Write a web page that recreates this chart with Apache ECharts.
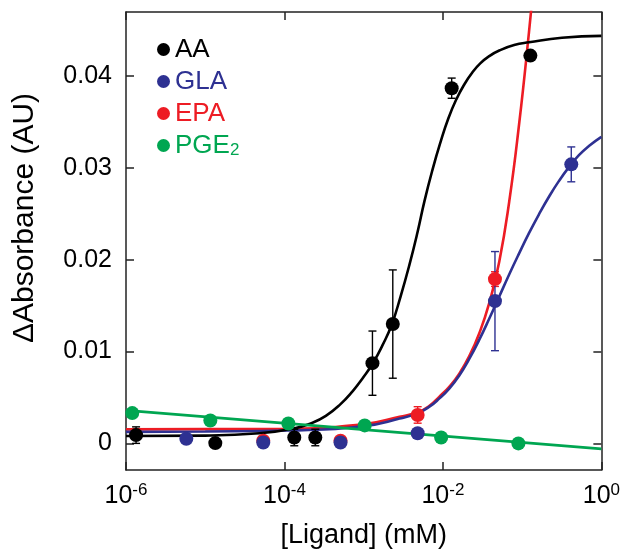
<!DOCTYPE html>
<html>
<head>
<meta charset="utf-8">
<script src="https://cdn.jsdelivr.net/npm/echarts@6/dist/echarts.min.js"></script>
<style>html,body{margin:0;padding:0;background:#fff}#c{width:623px;height:554px}</style>
</head>
<body>
<div id="c"></div>
<script>
// ---- tick labels ----
const xTicks = [1e-6, 1e-4, 1e-2, 1];
const yTicks = [0, 0.01, 0.02, 0.03, 0.04];

// ---- measured points (mean, error) ----
const aaX = [1.34e-6, 1.34e-5, 1.33e-4, 2.45e-4, 1.29e-3, 2.33e-3, 1.29e-2, 0.127];
const aaY = [0.0009, 0.00003, 0.00064, 0.00064, 0.00874, 0.0130, 0.0387, 0.04225];
const aaErr = [0.0009, 0, 0.0009, 0.0009, 0.0035, 0.0059, 0.0011, 0];

const glaX = [5.77e-6, 5.4e-5, 5.1e-4, 4.8e-3, 0.0454, 0.417];
const glaY = [0.0005, 0.0001, 0.0001, 0.0011, 0.0155, 0.0304];
const glaErr = [0, 0, 0, 0, 0.0054, 0.0019];

const epaX = [5.4e-5, 5.1e-4, 4.8e-3, 0.0454];
const epaY = [0.0003, 0.0003, 0.0031, 0.0179];
const epaErr = [0, 0, 0.0009, 0.0008];

const pgeX = [1.2e-6, 1.16e-5, 1.12e-4, 1.03e-3, 9.5e-3, 0.0897];
const pgeY = [0.0033, 0.0025, 0.00217, 0.00196, 0.00064, 0.0];

// ---- fitted curves ----
const aaFitX = [1e-6, 1e-5, 4.82e-5, 1.27e-4, 2.26e-4, 3.33e-4, 4.99e-4, 7.28e-4, 9.71e-4, 1.30e-3, 1.73e-3, 2.25e-3, 2.92e-3, 3.79e-3, 4.78e-3, 5.85e-3, 7.38e-3, 9.31e-3, 1.17e-2, 1.48e-2, 1.86e-2, 2.35e-2, 2.96e-2, 3.85e-2, 5.14e-2, 7.93e-2, 0.122, 0.318, 1];
const aaFitY = [0.0008, 0.00085, 0.0011, 0.0016, 0.00225, 0.0030, 0.0042, 0.0057, 0.0071, 0.0087, 0.0107, 0.0129, 0.0160, 0.0195, 0.0230, 0.0264, 0.0298, 0.0328, 0.0354, 0.0375, 0.0391, 0.0404, 0.0414, 0.0422, 0.0428, 0.0434, 0.0437, 0.0442, 0.0444];

const epaFitX = [1e-6, 1e-5, 1.12e-4, 1.03e-3, 2.84e-3, 4.82e-3, 6.76e-3, 9.04e-3, 1.21e-2, 1.61e-2, 2.15e-2, 2.88e-2, 3.85e-2, 5.14e-2, 6.86e-2, 9.16e-2, 0.122, 0.164];
const epaFitY = [0.00153, 0.00155, 0.0016, 0.0021, 0.0029, 0.0034, 0.0041, 0.0051, 0.0062, 0.0076, 0.0095, 0.0120, 0.0153, 0.0198, 0.0263, 0.0348, 0.0448, 0.0560];

const glaFitX = [1e-6, 1e-5, 1.12e-4, 1.03e-3, 2.84e-3, 4.82e-3, 6.76e-3, 9.04e-3, 1.21e-2, 1.61e-2, 2.15e-2, 2.88e-2, 3.85e-2, 5.14e-2, 6.86e-2, 9.16e-2, 0.122, 0.164, 0.219, 0.292, 0.390, 0.521, 0.696, 1];
const glaFitY = [0.00125, 0.0013, 0.0014, 0.0019, 0.0027, 0.0033, 0.0040, 0.0049, 0.0060, 0.0074, 0.0092, 0.0113, 0.0136, 0.0160, 0.0184, 0.0207, 0.0229, 0.0250, 0.0269, 0.0286, 0.0301, 0.0314, 0.0324, 0.0334];

const pgeFitX = [1e-6, 1];
const pgeFitY = [0.0036, -0.0006];

const names = ['AA', 'GLA', 'EPA', 'PGE2'];
const colors = { AA: '#000000', GLA: '#2e3192', EPA: '#ed1c24', PGE2: '#00a651' };

const zip = (a, b) => a.map((v, i) => [v, b[i]]);
const zip3 = (a, b, c) => a.map((v, i) => [v, b[i], c[i]]).filter(d => d[2] > 0);

function errRender(color) {
  return function (params, api) {
    const x = api.value(0), y = api.value(1), e = api.value(2);
    const t = api.coord([x, y + e]), b = api.coord([x, y - e]);
    const hw = 4;
    const st = { stroke: color, lineWidth: 1.4 };
    return {
      type: 'group',
      children: [
        { type: 'line', shape: { x1: t[0], y1: t[1], x2: b[0], y2: b[1] }, style: st },
        { type: 'line', shape: { x1: t[0] - hw, y1: t[1], x2: t[0] + hw, y2: t[1] }, style: st },
        { type: 'line', shape: { x1: b[0] - hw, y1: b[1], x2: b[0] + hw, y2: b[1] }, style: st }
      ]
    };
  };
}

const FONT = 'Liberation Sans, Arial, sans-serif';
const axisLineStyle = { color: '#222', width: 1.5 };

function xAxisCfg(pos, showLabel) {
  return {
    type: 'log', logBase: 10, position: pos, min: 1e-6, max: 1,
    axisLine: { show: true, onZero: false, lineStyle: axisLineStyle },
    axisTick: { show: true, inside: true, length: 8, lineStyle: axisLineStyle, customValues: xTicks },
    minorTick: { show: false },
    splitLine: { show: false },
    axisLabel: {
      show: showLabel, customValues: xTicks, margin: 12,
      fontFamily: FONT, color: '#000',
      formatter: v => '{b|10}{s|' + Math.round(Math.log10(v)) + '}',
      rich: {
        b: { fontSize: 25, fontFamily: FONT, color: '#000', lineHeight: 28 },
        s: { fontSize: 17, fontFamily: FONT, color: '#000', verticalAlign: 'top', lineHeight: 18 }
      }
    },
    name: showLabel ? '[Ligand] (mM)' : '',
    nameLocation: 'middle', nameGap: 52,
    nameTextStyle: { fontSize: 27, fontFamily: FONT, color: '#000' }
  };
}
function yAxisCfg(pos, showLabel) {
  return {
    type: 'value', position: pos, min: -0.0029, max: 0.047,
    axisLine: { show: true, onZero: false, lineStyle: axisLineStyle },
    axisTick: { show: true, inside: true, length: 8, lineStyle: axisLineStyle, customValues: yTicks },
    splitLine: { show: false },
    axisLabel: {
      show: showLabel, customValues: yTicks, margin: 14,
      fontSize: 25, fontFamily: FONT, color: '#000',
      formatter: v => (v === 0 ? '0' : v.toFixed(2))
    },
    name: showLabel ? 'ΔAbsorbance (AU)' : '',
    nameLocation: 'middle', nameGap: 86,
    nameTextStyle: { fontSize: 30, fontFamily: FONT, color: '#000', padding: [0, 0, 0, 46] }
  };
}

const series = [];
// fitted lines
[['EPA', epaFitX, epaFitY], ['GLA', glaFitX, glaFitY], ['AA', aaFitX, aaFitY], ['PGE2', pgeFitX, pgeFitY]].forEach(([n, xs, ys]) => {
  series.push({
    name: n + ' fit', type: 'line', data: zip(xs, ys), showSymbol: false, symbol: 'none',
    smooth: 0.5, clip: true, z: 2,
    lineStyle: { color: colors[n], width: 2.6 }, itemStyle: { color: colors[n] }, silent: true
  });
});
// error bars
[['AA', aaX, aaY, aaErr], ['EPA', epaX, epaY, epaErr], ['GLA', glaX, glaY, glaErr]].forEach(([n, xs, ys, es]) => {
  series.push({ name: n + ' err', type: 'custom', renderItem: errRender(colors[n]), data: zip3(xs, ys, es), z: 3, silent: true });
});
// points
[['PGE2', pgeX, pgeY], ['EPA', epaX, epaY], ['GLA', glaX, glaY], ['AA', aaX, aaY]].forEach(([n, xs, ys]) => {
  series.push({
    name: n, type: 'scatter', data: zip(xs, ys), symbol: 'circle', symbolSize: 14, z: 4,
    itemStyle: { color: colors[n], opacity: 1 }
  });
});

const chart = echarts.init(document.getElementById('c'), null, { renderer: 'canvas' });
chart.setOption({
  animation: false,
  backgroundColor: '#fff',
  grid: { left: 126, right: 20, top: 12, bottom: 76, containLabel: false },
  xAxis: [xAxisCfg('bottom', true), xAxisCfg('top', false)],
  yAxis: [yAxisCfg('left', true), yAxisCfg('right', false)],
  legend: {
    orient: 'vertical', left: 152, top: 31,
    icon: 'circle', itemWidth: 13, itemHeight: 13, itemGap: 5,
    data: names.map(n => ({ name: n, textStyle: { color: colors[n] } })),
    formatter: n => (n === 'PGE2' ? 'PGE{sub|2}' : n),
    textStyle: {
      fontSize: 26, fontFamily: FONT, lineHeight: 27, padding: [0, 0, 0, 0],
      rich: { sub: { fontSize: 17, fontFamily: FONT, color: colors.PGE2, verticalAlign: 'bottom', lineHeight: 21 } }
    }
  },
  series: series
});
</script>
</body>
</html>
